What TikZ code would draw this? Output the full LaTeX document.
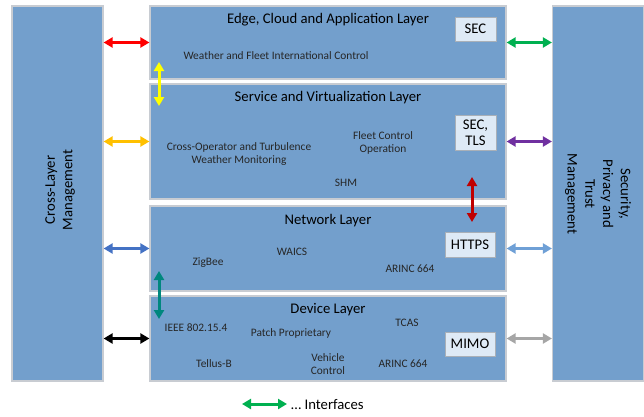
\documentclass[tikz,border=0pt]{standalone}
\usepackage{fontspec}
\setmainfont{Carlito}
\usetikzlibrary{arrows.meta}
\definecolor{panelfill}{HTML}{739FCC}
\definecolor{panelline}{HTML}{C8CCD2}
\definecolor{tagfill}{HTML}{DEEAF6}
\definecolor{tagline}{HTML}{A9B0B8}
\definecolor{cRed}{HTML}{FF0000}
\definecolor{cYellow}{HTML}{FFFF00}
\definecolor{cOrange}{HTML}{FFC000}
\definecolor{cBlue}{HTML}{4472C4}
\definecolor{cGreen}{HTML}{00B050}
\definecolor{cPurple}{HTML}{7030A0}
\definecolor{cLightBlue}{HTML}{6FA0D6}
\definecolor{cGray}{HTML}{A6A6A6}
\definecolor{cDarkRed}{HTML}{C00000}
\definecolor{cTeal}{HTML}{00877E}
\tikzset{
  panel/.style={draw=panelline, line width=1.2pt, fill=panelfill, inner sep=0pt},
  tag/.style={draw=tagline, line width=0.8pt, fill=tagfill, font=\fontsize{14.7}{17}\selectfont, align=center, inner sep=0pt},
  ttl/.style={font=\fontsize{14.7}{16}\selectfont, text=black},
  item/.style={font=\fontsize{11.4}{13}\selectfont, align=center, text=black!85},
  iface/.style={line width=3pt, {Triangle[length=9pt,width=10pt]}-{Triangle[length=9pt,width=10pt]}},
}
\begin{document}
\begin{tikzpicture}[x=1pt,y=-1pt]
\useasboundingbox (0,0) rectangle (644,416);

% side panels
\node[panel, minimum width=91pt, minimum height=375pt] (cross) at (57.5,193.5) {};
\node[panel, minimum width=91pt, minimum height=375pt] (secp) at (598,193.5) {};
\node[rotate=90, font=\fontsize{14.7}{17.5}\selectfont, align=center] at (60,190) {Cross-Layer\\Management};
\node[rotate=-90, font=\fontsize{14.7}{17.7}\selectfont, align=center] at (598,194) {Security,\\Privacy and\\Trust\\Management};

% layers
\node[panel, minimum width=356pt, minimum height=73pt] (edge) at (328,42.5) {};
\node[panel, minimum width=356pt, minimum height=115pt] (serv) at (328,141.5) {};
\node[panel, minimum width=356pt, minimum height=85pt] (net) at (328,248.5) {};
\node[panel, minimum width=356pt, minimum height=85pt] (dev) at (328,338.5) {};

% layer titles
\node[ttl] (tEdge) at (328,19.5) {Edge, Cloud and Application Layer};
\node[ttl] (tServ) at (328,97.5) {Service and Virtualization Layer};
\node[ttl] (tNet) at (328,220.5) {Network Layer};
\node[ttl] (tDev) at (328,309.5) {Device Layer};

% protocol tags
\node[tag, minimum width=41pt, minimum height=24pt] (sec) at (475.5,29) {SEC};
\node[tag, minimum width=41pt, minimum height=35pt] (sectls) at (475.5,132.5) {SEC,\\[-1pt]TLS};
\node[tag, minimum width=50pt, minimum height=25pt] (https) at (470,244.5) {HTTPS};
\node[tag, minimum width=50pt, minimum height=24pt] (mimo) at (470,344) {MIMO};

% layer contents
\node[item] (wfic) at (276,56) {Weather and Fleet International Control};
\node[item] (cotw) at (239,154.5) {Cross-Operator and Turbulence\\Weather Monitoring};
\node[item] (fco) at (383,142.5) {Fleet Control\\Operation};
\node[item] (shm) at (346,183) {SHM};
\node[item] (waics) at (292,252) {WAICS};
\node[item] (zig) at (208,263) {ZigBee};
\node[item] (arincA) at (410,269) {ARINC 664};
\node[item] (ieee) at (196,328) {IEEE 802.15.4};
\node[item] (patch) at (291,333) {Patch Proprietary};
\node[item] (tcas) at (407,323) {TCAS};
\node[item] (tellus) at (214,364) {Tellus-B};
\node[item] (veh) at (328,364.5) {Vehicle\\Control};
\node[item] (arincB) at (403,364) {ARINC 664};

% interfaces to cross-layer management
\draw[iface, cRed] (cross.east |- edge.west) -- (edge.west);
\draw[iface, cOrange] (cross.east |- serv.west) -- (serv.west);
\draw[iface, cBlue] (cross.east |- net.west) -- (net.west);
\draw[iface, black] (cross.east |- dev.west) -- (dev.west);

% interfaces to security management
\draw[iface, cGreen] (edge.east) -- (secp.west |- edge.east);
\draw[iface, cPurple] (serv.east) -- (secp.west |- serv.east);
\draw[iface, cLightBlue] (net.east) -- (secp.west |- net.east);
\draw[iface, cGray] (dev.east) -- (secp.west |- dev.east);

% interfaces between layers
\coordinate (yA) at (159,62);
\coordinate (yB) at (159,106);
\draw[iface, cYellow] (yA) -- (yB);
\coordinate (tA) at (159,271);
\coordinate (tB) at (159,319);
\draw[iface, cTeal] (tA) -- (tB);
\coordinate (rA) at (472,177);
\coordinate (rB) at (472,222);
\draw[iface, cDarkRed] (rA) -- (rB);

% legend
\coordinate (lgA) at (242,404);
\coordinate (lgB) at (287,404);
\draw[iface, cGreen] (lgA) -- (lgB);
\node[anchor=west, font=\fontsize{14.7}{16}\selectfont, inner sep=0pt] (lgT) at (291,405) {\dots\ Interfaces};
\end{tikzpicture}
\end{document}
